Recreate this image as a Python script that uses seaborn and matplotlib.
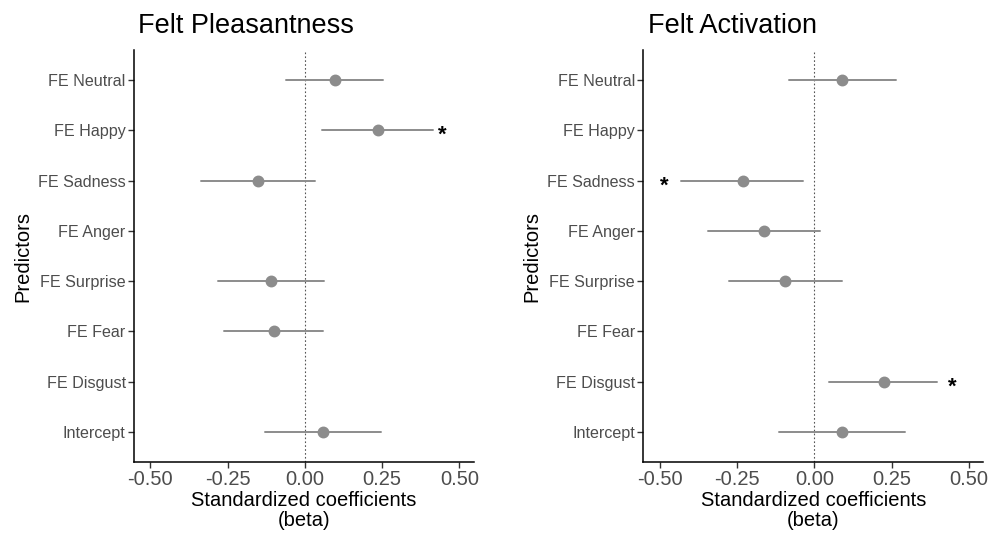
import pandas as pd
import matplotlib.pyplot as plt
import seaborn as sns

# predictors, top to bottom
predictors = ["FE Neutral", "FE Happy", "FE Sadness", "FE Anger",
              "FE Surprise", "FE Fear", "FE Disgust", "Intercept"]

# Felt Pleasantness: estimate and 95% CI (None = not in model)
pleas_est = [0.097, 0.237, -0.152, None, -0.109, -0.101, None, 0.059]
pleas_lo = [-0.060, 0.056, -0.336, None, -0.282, -0.262, None, -0.129]
pleas_hi = [0.252, 0.415, 0.032, None, 0.061, 0.058, None, 0.245]
pleas_star = {"FE Happy": 0.446}

# Felt Activation
act_est = [0.091, None, -0.231, -0.163, -0.094, None, 0.224, 0.088]
act_lo = [-0.083, None, -0.430, -0.345, -0.277, None, 0.049, -0.115]
act_hi = [0.263, None, -0.037, 0.017, 0.090, None, 0.398, 0.292]
act_star = {"FE Sadness": -0.484, "FE Disgust": 0.448}

titles = ["Felt Pleasantness", "Felt Activation"]


def long_table(est, lo, hi):
    rows = []
    for p, e, l, h in zip(predictors, est, lo, hi):
        if e is None:
            continue
        for v in (l, e, h):
            rows.append({"predictor": p, "beta": v})
    return pd.DataFrame(rows)


sns.set_theme(style="ticks")
plt.rcParams["font.family"] = ["Liberation Sans", "DejaVu Sans"]

fig, axes = plt.subplots(1, 2, figsize=(9.89, 5.38), dpi=100)
fig.subplots_adjust(left=0.1355, right=0.994, bottom=0.141, top=0.907, wspace=0.5)

grey = "#8c8c8c"
panels = [(pleas_est, pleas_lo, pleas_hi, pleas_star),
          (act_est, act_lo, act_hi, act_star)]

for ax, (est, lo, hi, stars), title in zip(axes, panels, titles):
    df = long_table(est, lo, hi)
    ax.axvline(0, color="#555555", linestyle=(0, (1.5, 2)), linewidth=0.8, zorder=0)
    sns.pointplot(data=df, x="beta", y="predictor", order=predictors,
                  estimator="median", errorbar=("pi", 100), linestyle="none",
                  color=grey, markersize=6.5, err_kws={"linewidth": 1.4},
                  ax=ax)
    # asterisk glyph sits high in its box, nudge it down onto the row
    for p, x in stars.items():
        ax.text(x, predictors.index(p) + 0.1, "*", ha="center", va="center",
                fontsize=16, fontweight="bold", color="black")
    ax.set_xlim(-0.553, 0.546)
    ax.set_ylim(len(predictors) - 0.4, -0.6)
    ax.set_xticks([-0.5, -0.25, 0, 0.25, 0.5])
    ax.set_xticklabels(["-0.50", "-0.25", "0.00", "0.25", "0.50"])
    ax.set_xlabel("Standardized coefficients\n(beta)", fontsize=14.5,
                  color="black", linespacing=1.05, labelpad=1)
    ax.set_ylabel("Predictors", fontsize=14.5, color="black", labelpad=4)
    ax.set_title(title, loc="left", fontsize=19.5, pad=12, x=0.012, color="black")
    ax.tick_params(axis="x", labelsize=14.5, labelcolor="#4d4d4d",
                   color="#333333", length=4, width=1, pad=2)
    ax.tick_params(axis="y", labelsize=11.6, labelcolor="#4d4d4d",
                   color="#333333", length=4, width=1, pad=2)
    sns.despine(ax=ax)
    for s in ("left", "bottom"):
        ax.spines[s].set_linewidth(1.1)
        ax.spines[s].set_color("black")

fig.savefig("out.png", dpi=100)
